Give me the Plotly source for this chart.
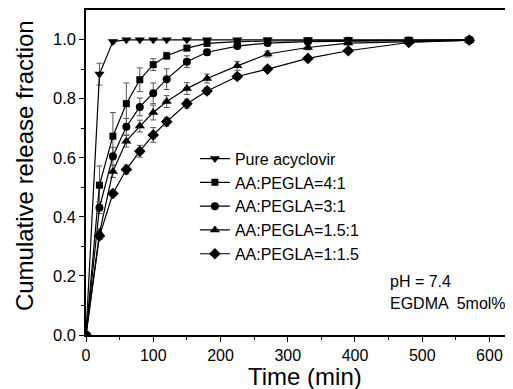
import plotly.graph_objects as go

time = [0, 20, 40, 60, 80, 100, 120, 150, 180, 225, 270, 330, 390, 480, 570]

pure = [0, 0.883, 0.993, 0.999, 0.999, 0.999, 0.999, 0.999, 0.999, 0.999, 0.999, 0.999, 0.999, 0.999, 0.999]
pure_err = [0, 0.037, 0.005, 0, 0, 0, 0, 0, 0, 0, 0, 0, 0, 0, 0]

r41 = [0, 0.507, 0.673, 0.783, 0.864, 0.915, 0.945, 0.971, 0.987, 0.993, 0.995, 0.996, 0.997, 0.998, 0.999]
r41_err = [0, 0.065, 0.08, 0.07, 0.04, 0.02, 0.012, 0.008, 0.006, 0.005, 0.005, 0.004, 0.004, 0.003, 0.003]

r31 = [0, 0.431, 0.605, 0.705, 0.772, 0.818, 0.866, 0.925, 0.957, 0.978, 0.988, 0.993, 0.995, 0.996, 0.998]
r31_err = [0, 0.02, 0.03, 0.028, 0.03, 0.035, 0.035, 0.02, 0.01, 0.008, 0.006, 0.005, 0.004, 0.004, 0.003]

r151 = [0, 0.345, 0.553, 0.656, 0.707, 0.753, 0.790, 0.834, 0.868, 0.911, 0.951, 0.973, 0.988, 0.993, 0.997]
r151_err = [0, 0.015, 0.02, 0.02, 0.02, 0.025, 0.02, 0.02, 0.015, 0.015, 0.01, 0.008, 0.006, 0.005, 0.004]

r115 = [0, 0.335, 0.479, 0.560, 0.622, 0.677, 0.722, 0.783, 0.826, 0.875, 0.900, 0.936, 0.962, 0.990, 0.998]
r115_err = [0, 0.012, 0.01, 0.015, 0.02, 0.025, 0.015, 0.015, 0.012, 0.01, 0.008, 0.006, 0.005, 0.004, 0.003]

names = ["Pure acyclovir", "AA:PEGLA=4:1", "AA:PEGLA=3:1", "AA:PEGLA=1.5:1", "AA:PEGLA=1:1.5"]
series = [pure, r41, r31, r151, r115]
errors = [pure_err, r41_err, r31_err, r151_err, r115_err]
symbols = ["triangle-down", "square", "circle", "triangle-up", "diamond"]
sizes = [9, 7, 8, 9, 9]

fig = go.Figure()
for name, ys, es, sym, sz in zip(names, series, errors, symbols, sizes):
    fig.add_trace(go.Scatter(
        x=time, y=ys, name=name, mode="lines+markers",
        line=dict(color="black", width=1.2),
        marker=dict(symbol=sym, size=sz, color="black"),
        error_y=dict(type="data", array=es, visible=True, color="#555555", thickness=1, width=3),
    ))

font_family = "Liberation Sans, Arial, sans-serif"
fig.update_layout(
    width=505, height=381,
    margin=dict(l=78, r=0, t=2, b=54),
    paper_bgcolor="white", plot_bgcolor="white",
    font=dict(family=font_family, color="black", size=16),
    showlegend=True,
    legend=dict(x=0.255, y=0.595, xanchor="left", yanchor="top",
                bgcolor="rgba(0,0,0,0)", font=dict(size=16), tracegroupgap=0,
                itemwidth=30),
    xaxis=dict(range=[0, 635], tickvals=[0, 100, 200, 300, 400, 500, 600],
               automargin=False,
               ticks="outside", ticklen=5, tickcolor="black",
               minor=dict(tickvals=[50, 150, 250, 350, 450, 550], ticks="outside", ticklen=3, tickcolor="black"),
               showline=True, linecolor="black", linewidth=1.5, mirror=True,
               showgrid=False, zeroline=False,
               tickfont=dict(size=16)),
    yaxis=dict(range=[0, 1.1], tickvals=[0, 0.2, 0.4, 0.6, 0.8, 1.0],
               ticktext=["0.0", "0.2", "0.4", "0.6", "0.8", "1.0"],
               automargin=False,
               ticks="outside", ticklen=5, tickcolor="black",
               minor=dict(tickvals=[0.1, 0.3, 0.5, 0.7, 0.9], ticks="outside", ticklen=3, tickcolor="black"),
               showline=True, linecolor="black", linewidth=1.5, mirror=True,
               showgrid=False, zeroline=False,
               tickfont=dict(size=16.5)),
    annotations=[
        dict(x=448.7, y=0.18, xref="x", yref="y", text="pH = 7.4", showarrow=False,
             xanchor="left", yanchor="middle", font=dict(size=16)),
        dict(x=448.7, y=0.105, xref="x", yref="y", text="EGDMA  5mol%", showarrow=False,
             xanchor="left", yanchor="middle", font=dict(size=16)),
        dict(x=0.513, y=-0.128, xref="paper", yref="paper", text="Time (min)", showarrow=False,
             xanchor="center", yanchor="middle", font=dict(size=24)),
        dict(x=-0.145, y=0.52, xref="paper", yref="paper", text="Cumulative release fraction",
             showarrow=False, textangle=-90, xanchor="center", yanchor="middle", font=dict(size=24)),
    ],
)

fig.write_html("out.html")
